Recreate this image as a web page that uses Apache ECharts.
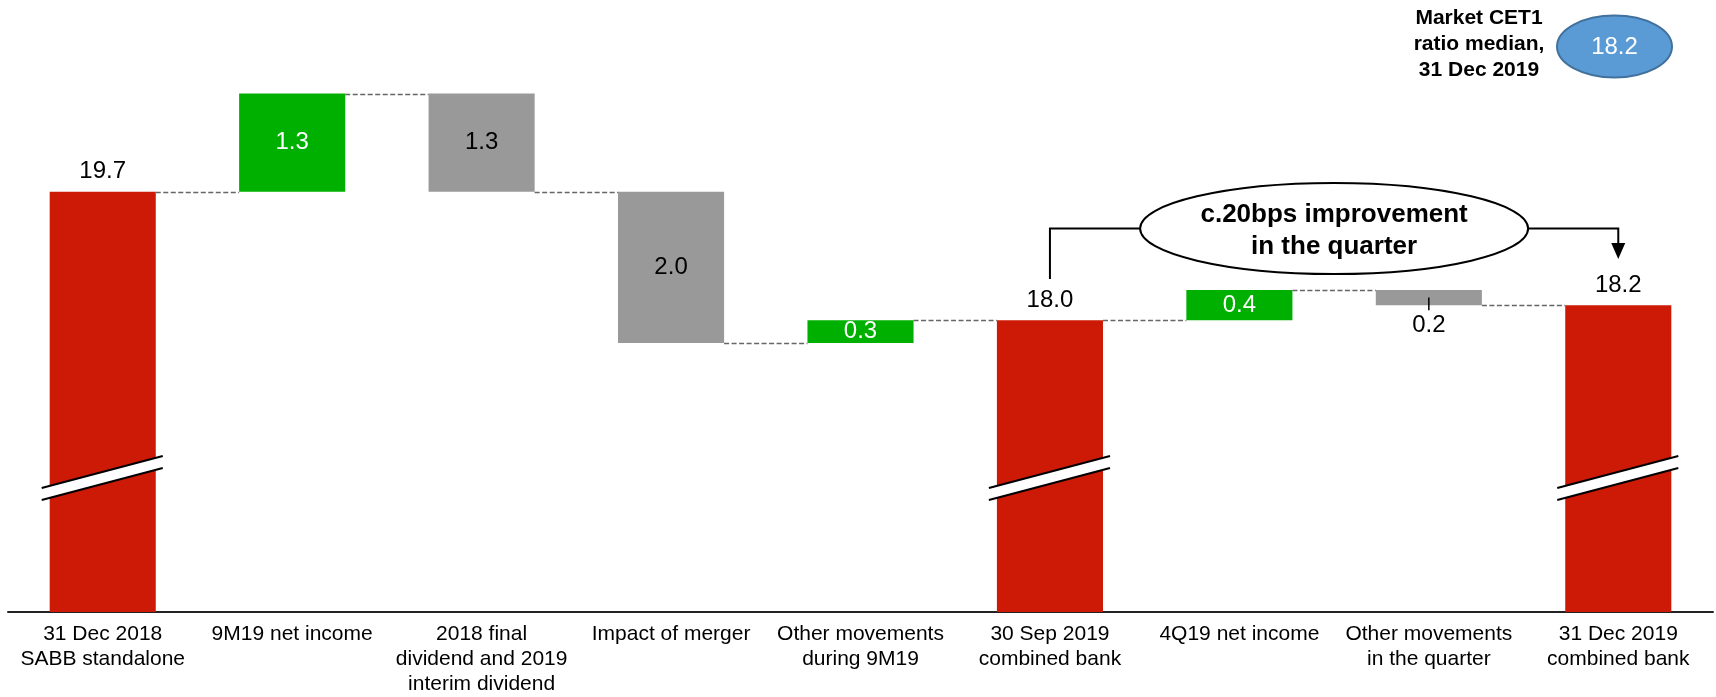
<!DOCTYPE html>
<html>
<head>
<meta charset="utf-8">
<script src="https://cdn.jsdelivr.net/npm/echarts@6/dist/echarts.min.js"></script>
<style>
  html, body { margin: 0; padding: 0; background: #fff; }
  #chart { width: 1716px; height: 697px; }
</style>
</head>
<body>
<div id="chart"></div>
<script>
// CET1 ratio walk (%)
const categories = [
  '31 Dec 2018\nSABB standalone',
  '9M19 net income',
  '2018 final\ndividend and 2019\ninterim dividend',
  'Impact of merger',
  'Other movements\nduring 9M19',
  '30 Sep 2019\ncombined bank',
  '4Q19 net income',
  'Other movements\nin the quarter',
  '31 Dec 2019\ncombined bank'
];
const stepKinds = ['total', 'increase', 'decrease', 'decrease', 'increase', 'total', 'increase', 'decrease', 'total'];
const stepValues = [19.7, 1.3, -1.3, -2.0, 0.3, 18.0, 0.4, -0.2, 18.2];
const marketMedian = 18.2;
const medianTitle = 'Market CET1\nratio median,\n31 Dec 2019';
const calloutText = 'c.20bps improvement\nin the quarter';
const calloutFrom = 5;
const calloutTo = 8;

const FONT = '"Liberation Sans", Arial, Helvetica, sans-serif';
const COLORS = { total: '#CC1A06', increase: '#00B000', decrease: '#999999' };
const Y_MIN = 14.14, Y_MAX = 22;

// running levels -> [index, low, high, levelAfter, value]
const walk = [];
let level = 0;
stepValues.forEach((v, i) => {
  if (stepKinds[i] === 'total') {
    level = v;
    walk.push([i, 0, v, level, v]);
  } else {
    const next = level + v;
    walk.push([i, Math.min(level, next), Math.max(level, next), next, v]);
    level = next;
  }
});

function renderStep(params, api) {
  const i = api.value(0);
  const low = api.value(1), high = api.value(2), lvl = api.value(3), val = api.value(4);
  const kind = stepKinds[i];
  const cs = params.coordSys;
  const bottom = cs.y + cs.height;
  const band = api.size([1, 0])[0];
  const bw = band * 0.56;
  const top = api.coord([i, high]);
  const cx = top[0];
  const yTop = top[1];
  const yBot = Math.min(api.coord([i, low])[1], bottom);
  const children = [];

  children.push({
    type: 'rect',
    shape: { x: cx - bw / 2, y: yTop, width: bw, height: yBot - yTop },
    style: { fill: COLORS[kind] }
  });

  // dashed connector to the next column
  if (i < categories.length - 1) {
    const ly = Math.round(api.coord([i, lvl])[1]) + 0.5;
    children.push({
      type: 'line',
      shape: { x1: cx + bw / 2, y1: ly, x2: cx + band - bw / 2, y2: ly },
      style: { stroke: '#666', lineWidth: 1.5, lineDash: [5, 2.5] }
    });
  }

  const txt = Math.abs(val).toFixed(1);
  if (kind === 'total') {
    // axis break marker across the column
    const xl = cx - bw / 2 - 8, xr = cx + bw / 2 + 7;
    const ul = bottom - 124, ur = bottom - 156, gap = 12;
    children.push({
      type: 'polygon',
      shape: { points: [[xl, ul], [xr, ur], [xr, ur + gap], [xl, ul + gap]] },
      style: { fill: '#fff' }
    });
    children.push({ type: 'line', shape: { x1: xl, y1: ul, x2: xr, y2: ur }, style: { stroke: '#000', lineWidth: 2 } });
    children.push({ type: 'line', shape: { x1: xl, y1: ul + gap, x2: xr, y2: ur + gap }, style: { stroke: '#000', lineWidth: 2 } });
    children.push({
      type: 'text',
      style: { text: txt, x: cx, y: yTop - 20, font: '24px ' + FONT, fill: '#000', align: 'center', verticalAlign: 'middle' }
    });
  } else if (yBot - yTop >= 16) {
    children.push({
      type: 'text',
      style: {
        text: txt, x: cx, y: (yTop + yBot) / 2, font: '24px ' + FONT,
        fill: kind === 'increase' ? '#fff' : '#000', align: 'center', verticalAlign: 'middle'
      }
    });
  } else {
    // thin column: label below with a leader tick
    children.push({
      type: 'line',
      shape: { x1: cx, y1: (yTop + yBot) / 2, x2: cx, y2: yBot + 5 },
      style: { stroke: '#000', lineWidth: 1.5 }
    });
    children.push({
      type: 'text',
      style: { text: txt, x: cx, y: yBot + 20, font: '24px ' + FONT, fill: '#000', align: 'center', verticalAlign: 'middle' }
    });
  }
  return { type: 'group', children };
}

const chart = echarts.init(document.getElementById('chart'), null, { renderer: 'canvas' });
chart.setOption({
  animation: false,
  backgroundColor: '#fff',
  grid: { left: 8, right: 3, top: 18, bottom: 84, containLabel: false },
  xAxis: {
    type: 'category',
    data: categories,
    axisLine: { lineStyle: { color: '#222', width: 2 } },
    axisTick: { show: false },
    axisLabel: {
      interval: 0, margin: 10, color: '#000', fontFamily: FONT, fontSize: 21, lineHeight: 25, align: 'center'
    }
  },
  yAxis: { type: 'value', min: Y_MIN, max: Y_MAX, show: false, splitLine: { show: false } },
  series: [{
    type: 'custom',
    renderItem: renderStep,
    encode: { x: 0, y: [1, 2] },
    data: walk,
    clip: false,
    z: 3
  }]
});

// callout bracket between the two combined-bank columns
const xFrom = chart.convertToPixel({ xAxisIndex: 0 }, calloutFrom);
const xTo = chart.convertToPixel({ xAxisIndex: 0 }, calloutTo);
const xMid = (xFrom + xTo) / 2;
const yBracket = 228.5, rx = 194, ry = 45.5;

chart.setOption({
  graphic: [
    {
      type: 'polyline',
      shape: { points: [[xFrom, 279], [xFrom, yBracket], [xMid - rx, yBracket]] },
      style: { stroke: '#000', lineWidth: 2, fill: null }
    },
    {
      type: 'polyline',
      shape: { points: [[xMid + rx, yBracket], [xTo, yBracket], [xTo, 244]] },
      style: { stroke: '#000', lineWidth: 2, fill: null }
    },
    {
      type: 'polygon',
      shape: { points: [[xTo - 7, 243], [xTo + 7, 243], [xTo, 259]] },
      style: { fill: '#000' }
    },
    {
      type: 'ellipse',
      shape: { cx: xMid, cy: yBracket, rx: rx, ry: ry },
      style: { fill: '#fff', stroke: '#000', lineWidth: 2 }
    },
    {
      type: 'text',
      style: {
        text: calloutText, x: xMid, y: yBracket + 2, font: 'bold 26px ' + FONT, lineHeight: 32,
        fill: '#000', align: 'center', verticalAlign: 'middle'
      }
    },
    {
      type: 'text',
      style: {
        text: medianTitle, x: 1479, y: 44, font: 'bold 21px ' + FONT, lineHeight: 26,
        fill: '#000', align: 'center', verticalAlign: 'middle'
      }
    },
    {
      type: 'ellipse',
      shape: { cx: 1614.5, cy: 46.5, rx: 57.5, ry: 31 },
      style: { fill: '#5B9BD5', stroke: '#41719C', lineWidth: 2 }
    },
    {
      type: 'text',
      style: {
        text: marketMedian.toFixed(1), x: 1614.5, y: 47, font: '24px ' + FONT,
        fill: '#fff', align: 'center', verticalAlign: 'middle'
      }
    }
  ]
});
</script>
</body>
</html>
